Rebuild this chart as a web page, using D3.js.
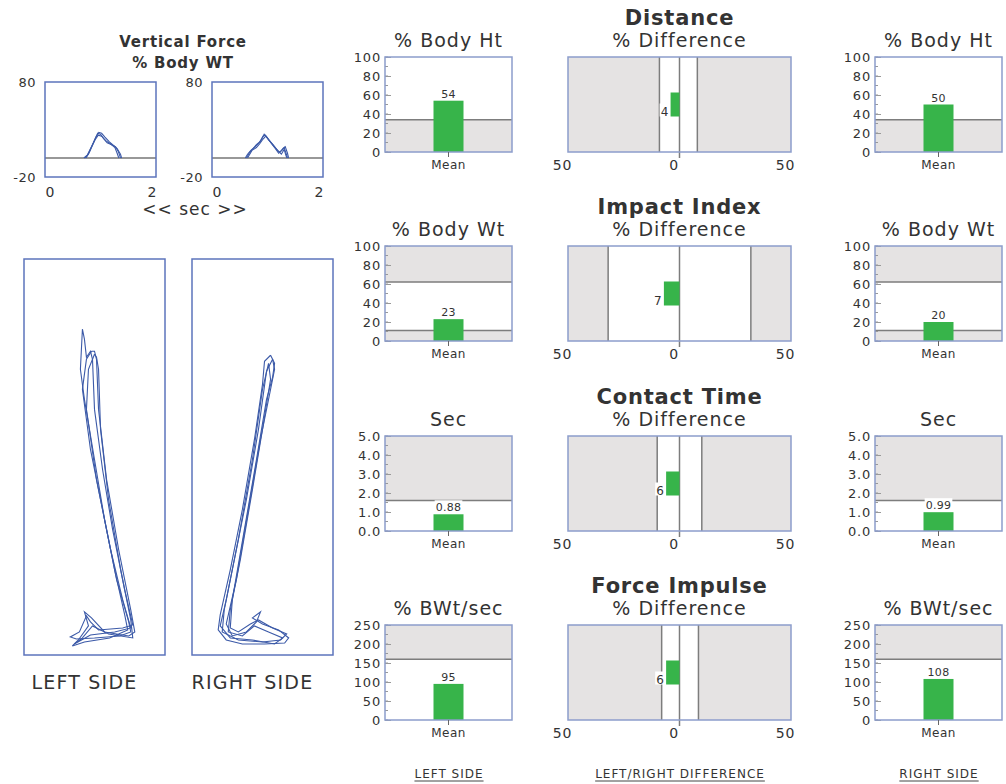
<!DOCTYPE html>
<html>
<head>
<meta charset="utf-8">
<script src="https://cdn.jsdelivr.net/npm/d3@7"></script>
<style>
  body { margin: 0; background: #fff; }
  svg { display: block; }
  text { font-family: "DejaVu Sans", "Liberation Sans", Arial, sans-serif; fill: #333; }
</style>
</head>
<body>
<div id="chart"></div>
<script>
// ---- data ----
var metrics = ["Distance", "Impact Index", "Contact Time", "Force Impulse"];
var unitTitles = ["% Body Ht", "% Body Wt", "Sec", "% BWt/sec"];
var axisMax = [100, 100, 5, 250];
var axisTicks = [[0, 20, 40, 60, 80, 100], [0, 20, 40, 60, 80, 100], [0, 1, 2, 3, 4, 5], [0, 50, 100, 150, 200, 250]];
var minorStep = [10, 10, 0.5, 25];
var leftMeans = [54, 23, 0.88, 95];
var rightMeans = [50, 20, 0.99, 108];
var meanFormat = ["d", "d", ".2f", "d"];
// shaded (out of normal) ranges for the mean panels
var meanBands = [[[0, 34]], [[0, 11], [62, 100]], [[1.6, 5]], [[160, 250]]];
// left/right % difference, negative = left side lower
var diffValues = [-4, -7, -6, -6];
// white (normal) range in the difference panels
var diffNormal = [[-9, 8], [-32, 32], [-10, 10], [-8, 8.5]];

// vertical force traces, [sec, % body wt]
var leftForce = [
  [[0.72,0],[0.78,4],[0.84,12],[0.9,20],[0.95,26],[1.0,25],[1.06,20],[1.12,16],[1.2,14],[1.27,12],[1.32,7],[1.35,2],[1.36,0]],
  [[0.74,0],[0.8,6],[0.86,14],[0.92,22],[0.97,27],[1.02,26],[1.08,22],[1.16,17],[1.24,13],[1.3,10],[1.36,4],[1.38,0]],
  [[0.7,0],[0.76,3],[0.83,11],[0.9,19],[0.96,24],[1.02,23],[1.1,18],[1.18,15],[1.26,11],[1.3,5],[1.33,0]]
];
var rightForce = [
  [[0.6,0],[0.64,4],[0.7,8],[0.78,12],[0.85,16],[0.92,23],[0.96,24],[1.02,19],[1.1,14],[1.18,8],[1.22,6],[1.28,10],[1.32,12],[1.36,5],[1.38,0]],
  [[0.62,0],[0.68,6],[0.74,10],[0.8,14],[0.88,18],[0.94,25],[0.99,22],[1.06,16],[1.14,10],[1.2,5],[1.26,8],[1.3,11],[1.34,4],[1.36,0]],
  [[0.64,0],[0.72,8],[0.8,11],[0.86,15],[0.92,20],[0.97,23],[1.04,18],[1.12,12],[1.2,7],[1.25,4],[1.3,9],[1.33,3],[1.35,0]]
];

// side-view limb traces, [horizontal, depth from top] in panel units (0..140, 0..395)
var leftLimb = [
  [[58,70],[56,110],[60,140],[70,200],[80,260],[92,320],[104,362],[106,372],[95,376],[70,378],[52,379],[46,377],[55,372],[62,356],[66,362],[74,370],[98,368],[108,365],[100,330],[88,270],[78,210],[70,150],[68,100],[66,92],[62,98],[60,80],[58,70]],
  [[67,92],[62,100],[58,130],[66,190],[78,250],[90,310],[100,355],[103,370],[85,378],[60,382],[48,386],[54,380],[64,366],[60,352],[67,358],[80,372],[104,376],[110,372],[106,350],[94,290],[82,220],[74,150],[72,100],[70,92],[67,92]],
  [[70,95],[64,110],[62,150],[72,220],[86,290],[98,340],[106,368],[90,372],[66,375],[50,384],[58,378],[68,366],[84,374],[108,378],[106,360],[96,310],[84,240],[76,170],[74,110],[72,98],[70,95]]
];
var rightLimb = [
  [[78,96],[72,102],[70,125],[62,180],[50,250],[38,310],[28,355],[26,370],[34,380],[50,384],[72,384],[92,383],[96,378],[86,370],[70,364],[60,358],[68,352],[64,362],[54,372],[40,376],[34,364],[44,320],[56,250],[68,180],[78,130],[82,110],[80,100],[78,96]],
  [[80,100],[74,112],[66,170],[54,240],[42,300],[32,350],[30,372],[46,380],[70,382],[88,380],[94,374],[80,368],[66,360],[58,364],[46,372],[38,368],[40,340],[52,270],[64,200],[74,140],[80,118],[82,104],[80,100]],
  [[76,104],[70,130],[60,200],[46,280],[34,340],[28,366],[38,378],[60,380],[82,384],[90,378],[76,372],[62,366],[50,376],[36,372],[38,350],[48,300],[60,230],[70,170],[78,120],[76,104]]
];

// ---- layout / styles ----
var width = 1006, height = 784;
var rowTops = [57, 246, 436, 625];
var panelH = 95;
var leftCol = { x0: 385, x1: 512 };
var rightCol = { x0: 875, x1: 1002 };
var midCol = { x0: 568, x1: 791 };
var boxStroke = "#8c9dcc";
var bandFill = "#e5e3e3";
var bandLine = "#7d7d7d";
var green = "#37b44a";
var traceBlue = "#3c5aa8";

var svg = d3.select("#chart").append("svg")
  .attr("width", width)
  .attr("height", height);

function textAttr(selection, size, weight, spacing) {
  selection
    .attr("font-size", size)
    .attr("font-weight", weight || "normal")
    .attr("letter-spacing", spacing || 0);
}

// small value label with a white patch behind it (cuts the band lines)
function labelWithBg(g, x, y, str, anchor, size) {
  var t = g.append("text")
    .attr("x", x).attr("y", y)
    .attr("text-anchor", anchor)
    .call(textAttr, size, "normal", 0.3)
    .text(str);
  var bb = t.node().getBBox();
  g.insert("rect", function() { return t.node(); })
    .attr("x", bb.x - 1).attr("y", bb.y - 1)
    .attr("width", bb.width + 2).attr("height", (y + 1) - (bb.y - 1))
    .attr("fill", "#fff");
}

// ---- mean panels (left and right side) ----
function drawMeanPanel(col, row, value) {
  var top = rowTops[row];
  var g = svg.append("g");
  var y = d3.scaleLinear().domain([0, axisMax[row]]).range([top + panelH, top]);
  var cx = (col.x0 + col.x1) / 2;

  g.append("text")
    .attr("x", cx).attr("y", top - 10)
    .attr("text-anchor", "middle")
    .call(textAttr, 19, "normal", 1)
    .text(unitTitles[row]);

  g.append("rect")
    .attr("x", col.x0).attr("y", top)
    .attr("width", col.x1 - col.x0).attr("height", panelH)
    .attr("fill", "#fff");

  meanBands[row].forEach(function(b) {
    g.append("rect")
      .attr("x", col.x0).attr("y", y(b[1]))
      .attr("width", col.x1 - col.x0).attr("height", y(b[0]) - y(b[1]))
      .attr("fill", bandFill);
    b.forEach(function(edge) {
      if (edge > 0 && edge < axisMax[row]) {
        g.append("line")
          .attr("x1", col.x0).attr("x2", col.x1)
          .attr("y1", y(edge)).attr("y2", y(edge))
          .attr("stroke", bandLine).attr("stroke-width", 1.5);
      }
    });
  });

  // minor ticks
  g.selectAll("line.minor")
    .data(d3.range(0, axisMax[row] + 1e-9, minorStep[row]))
    .enter().append("line")
    .attr("class", "minor")
    .attr("x1", col.x0).attr("x2", col.x0 + 3)
    .attr("y1", d => y(d)).attr("y2", d => y(d))
    .attr("stroke", "#999").attr("stroke-width", 1);

  var axis = d3.axisLeft(y)
    .tickValues(axisTicks[row])
    .tickSizeInner(-6).tickSizeOuter(0).tickPadding(4)
    .tickFormat(axisMax[row] < 10 ? d3.format(".1f") : d3.format("d"));
  var ax = g.append("g").attr("transform", "translate(" + col.x0 + ",0)").call(axis);
  ax.select(".domain").remove();
  ax.selectAll(".tick line").attr("stroke", "#999");
  ax.selectAll(".tick text").attr("fill", "#333").call(textAttr, 13, "normal", 0.8)
    .attr("font-family", "DejaVu Sans, sans-serif");

  // bar
  var barW = 30;
  g.append("rect")
    .attr("x", cx - barW / 2).attr("y", y(value))
    .attr("width", barW).attr("height", y(0) - y(value))
    .attr("fill", green);

  labelWithBg(g, cx, y(value) - 3, d3.format(meanFormat[row])(value), "middle", 11);

  g.append("rect")
    .attr("x", col.x0).attr("y", top)
    .attr("width", col.x1 - col.x0).attr("height", panelH)
    .attr("fill", "none").attr("stroke", boxStroke).attr("stroke-width", 1.5);

  g.append("line")
    .attr("x1", cx).attr("x2", cx)
    .attr("y1", top + panelH).attr("y2", top + panelH + 5)
    .attr("stroke", "#666");
  g.append("text")
    .attr("x", cx).attr("y", top + panelH + 17)
    .attr("text-anchor", "middle")
    .call(textAttr, 12, "normal", 0.4)
    .text("Mean");
}

// ---- difference panels ----
function drawDiffPanel(row) {
  var top = rowTops[row];
  var g = svg.append("g");
  var x = d3.scaleLinear().domain([-50, 50]).range([midCol.x0, midCol.x1]);
  var cx = x(0);

  g.append("text")
    .attr("x", cx).attr("y", top - 32)
    .attr("text-anchor", "middle")
    .call(textAttr, 21, "bold", 0.8)
    .attr("fill", "#1a1a1a")
    .text(metrics[row]);
  g.append("text")
    .attr("x", cx).attr("y", top - 10)
    .attr("text-anchor", "middle")
    .call(textAttr, 19, "normal", 1)
    .text("% Difference");

  g.append("rect")
    .attr("x", x(-50)).attr("y", top)
    .attr("width", x(50) - x(-50)).attr("height", panelH)
    .attr("fill", "#fff");

  var n = diffNormal[row];
  g.append("rect")
    .attr("x", x(-50)).attr("y", top)
    .attr("width", x(n[0]) - x(-50)).attr("height", panelH)
    .attr("fill", bandFill);
  g.append("rect")
    .attr("x", x(n[1])).attr("y", top)
    .attr("width", x(50) - x(n[1])).attr("height", panelH)
    .attr("fill", bandFill);
  g.selectAll("line.edge")
    .data(n)
    .enter().append("line")
    .attr("class", "edge")
    .attr("x1", d => x(d)).attr("x2", d => x(d))
    .attr("y1", top).attr("y2", top + panelH)
    .attr("stroke", bandLine).attr("stroke-width", 1.5);
  g.append("line")
    .attr("x1", cx).attr("x2", cx)
    .attr("y1", top).attr("y2", top + panelH + 6)
    .attr("stroke", bandLine).attr("stroke-width", 1.5);

  var v = diffValues[row];
  var barH = 24;
  var barY = top + panelH / 2 - barH / 2;
  g.append("rect")
    .attr("x", Math.min(x(v), cx)).attr("y", barY)
    .attr("width", Math.abs(x(v) - cx)).attr("height", barH)
    .attr("fill", green);
  labelWithBg(g, Math.min(x(v), cx) - 2, barY + barH - 1, Math.abs(v), "end", 12);

  g.append("rect")
    .attr("x", x(-50)).attr("y", top)
    .attr("width", x(50) - x(-50)).attr("height", panelH)
    .attr("fill", "none").attr("stroke", boxStroke).attr("stroke-width", 1.5);

  var axis = d3.axisBottom(x)
    .tickValues([-50, 0, 50])
    .tickSize(0).tickPadding(8)
    .tickFormat(d => Math.abs(d));
  var ax = g.append("g").attr("transform", "translate(0," + (top + panelH) + ")").call(axis);
  ax.select(".domain").remove();
  ax.selectAll(".tick text").attr("fill", "#333").attr("dx", -6)
    .call(textAttr, 14, "normal", 0.8)
    .attr("font-family", "DejaVu Sans, sans-serif");
}

for (var r = 0; r < metrics.length; r++) {
  drawMeanPanel(leftCol, r, leftMeans[r]);
  drawDiffPanel(r);
  drawMeanPanel(rightCol, r, rightMeans[r]);
}

// ---- vertical force panels ----
function drawForcePanel(x0, x1, traces) {
  var top = 82, bottom = 177;
  var g = svg.append("g");
  var x = d3.scaleLinear().domain([0, 2]).range([x0, x1]);
  var y = d3.scaleLinear().domain([-20, 80]).range([bottom, top]);
  var line = d3.line().x(d => x(d[0])).y(d => y(d[1]));

  g.append("line")
    .attr("x1", x0).attr("x2", x1)
    .attr("y1", y(0)).attr("y2", y(0))
    .attr("stroke", "#333").attr("stroke-width", 1.2);
  g.selectAll("path.force")
    .data(traces)
    .enter().append("path")
    .attr("class", "force")
    .attr("d", line)
    .attr("fill", "none").attr("stroke", traceBlue).attr("stroke-width", 1.1);
  g.append("rect")
    .attr("x", x0).attr("y", top)
    .attr("width", x1 - x0).attr("height", bottom - top)
    .attr("fill", "none").attr("stroke", "#5c74bc").attr("stroke-width", 1.5);

  [80, -20].forEach(function(v) {
    g.append("text")
      .attr("x", x0 - 9).attr("y", y(v)).attr("dy", "0.35em")
      .attr("text-anchor", "end")
      .call(textAttr, 13, "normal", 0.5)
      .text(v);
  });
  [0, 2].forEach(function(v) {
    g.append("text")
      .attr("x", x(v) + (v === 0 ? 5 : -4)).attr("y", 197)
      .attr("text-anchor", "middle")
      .call(textAttr, 14, "normal", 0)
      .text(v);
  });
}

svg.append("text").attr("x", 183).attr("y", 47).attr("text-anchor", "middle")
  .call(textAttr, 15, "bold", 0.8).attr("fill", "#1a1a1a").text("Vertical Force");
svg.append("text").attr("x", 183).attr("y", 68).attr("text-anchor", "middle")
  .call(textAttr, 15, "bold", 0.8).attr("fill", "#1a1a1a").text("% Body WT");
drawForcePanel(45, 156, leftForce);
drawForcePanel(212, 323, rightForce);
svg.append("text").attr("x", 195).attr("y", 215).attr("text-anchor", "middle")
  .call(textAttr, 17, "normal", 1).text("<< sec >>");

// ---- side view limb traces ----
function drawLimbPanel(x0, traces, label) {
  var top = 259, w = 141, h = 396;
  var g = svg.append("g");
  var x = d3.scaleLinear().domain([0, 140]).range([x0, x0 + w]);
  var y = d3.scaleLinear().domain([0, 395]).range([top, top + h]);
  var line = d3.line().x(d => x(d[0])).y(d => y(d[1]));

  g.append("rect")
    .attr("x", x0).attr("y", top).attr("width", w).attr("height", h)
    .attr("fill", "none").attr("stroke", "#5c74bc").attr("stroke-width", 1.5);
  g.selectAll("path.limb")
    .data(traces)
    .enter().append("path")
    .attr("class", "limb")
    .attr("d", line)
    .attr("fill", "none").attr("stroke", traceBlue).attr("stroke-width", 1.1);
  g.append("text")
    .attr("x", x0 + w / 2 - 10).attr("y", 689)
    .attr("text-anchor", "middle")
    .call(textAttr, 19, "normal", 1.2)
    .attr("fill", "#3a3a3a")
    .text(label);
}
drawLimbPanel(24, leftLimb, "LEFT SIDE");
drawLimbPanel(192, rightLimb, "RIGHT SIDE");

// ---- column footers ----
var footers = [["LEFT SIDE", 449], ["LEFT/RIGHT DIFFERENCE", 680], ["RIGHT SIDE", 939]];
footers.forEach(function(f) {
  var t = svg.append("text")
    .attr("x", f[1]).attr("y", 778)
    .attr("text-anchor", "middle")
    .call(textAttr, 12, "normal", 1)
    .attr("fill", "#444")
    .text(f[0]);
  var len = t.node().getComputedTextLength();
  svg.append("line")
    .attr("x1", f[1] - len / 2).attr("x2", f[1] + len / 2)
    .attr("y1", 781).attr("y2", 781)
    .attr("stroke", "#444").attr("stroke-width", 1);
});
</script>
</body>
</html>
